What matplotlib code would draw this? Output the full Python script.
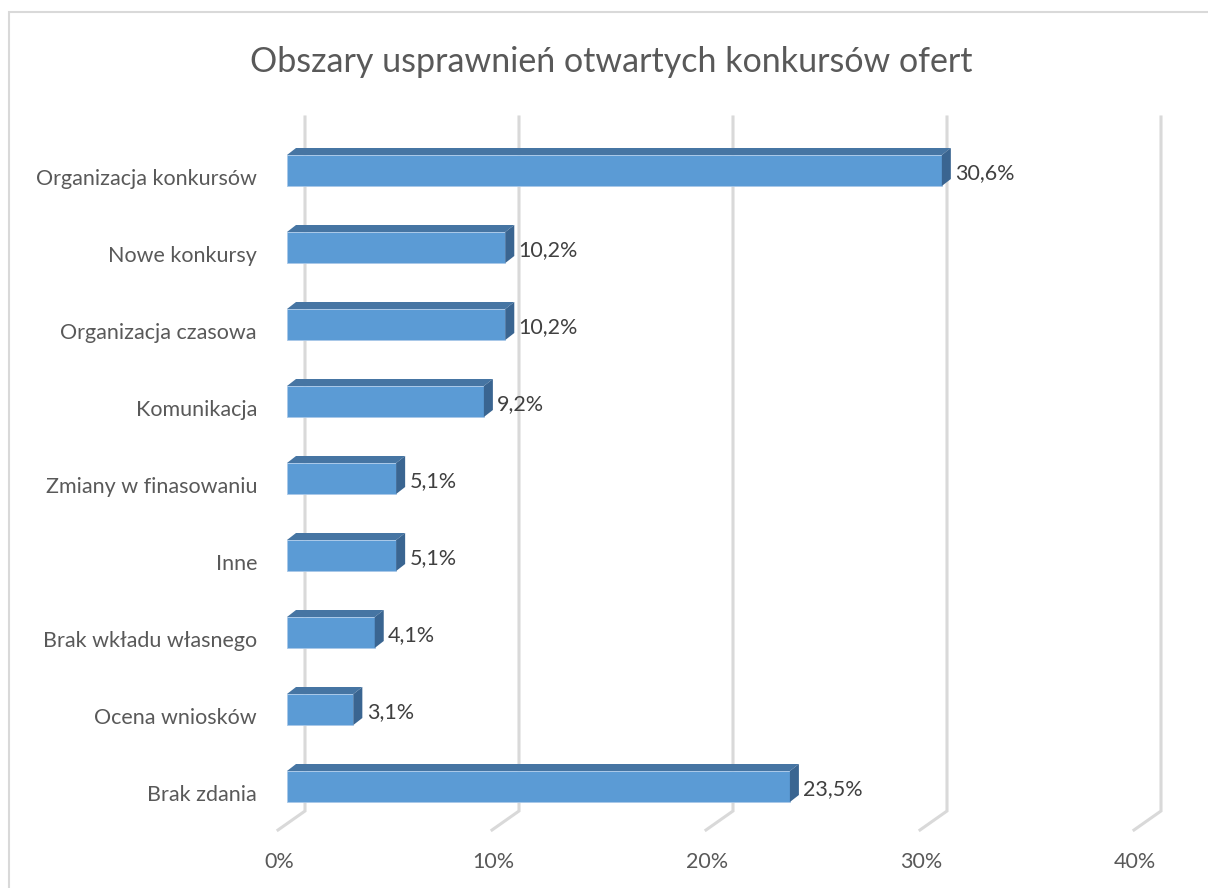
import matplotlib.pyplot as plt
from matplotlib.patches import Rectangle, Polygon

plt.rcParams['font.family'] = ['Lato', 'DejaVu Sans']

categories = ['Organizacja konkursów', 'Nowe konkursy', 'Organizacja czasowa', 'Komunikacja',
              'Zmiany w finasowaniu', 'Inne', 'Brak wkładu własnego', 'Ocena wniosków', 'Brak zdania']
values = [30.6, 10.2, 10.2, 9.2, 5.1, 5.1, 4.1, 3.1, 23.5]
value_labels = ['30,6%', '10,2%', '10,2%', '9,2%', '5,1%', '5,1%', '4,1%', '3,1%', '23,5%']
ticks = [0, 10, 20, 30, 40]
tick_labels = ['0%', '10%', '20%', '30%', '40%']

W, H = 1208, 888
fig = plt.figure(figsize=(W / 100, H / 100), dpi=100)

# axes placed in pixels: x 0..40 -> 287..1143 px, y -1..9 -> 93.5..863.5 px
px_per_x = 21.4
px_per_y = 77.0
x0, x1 = 287, 287 + 40 * px_per_x
y_top, y_bot = 93.5, 863.5
ax = fig.add_axes([x0 / W, (H - y_bot) / H, (x1 - x0) / W, (y_bot - y_top) / H])
ax.set_xlim(0, 40)
ax.set_ylim(9, -1)
ax.set_axis_off()

# 3d offsets in data units
dx = 9 / px_per_x
dy = -7 / px_per_y
h = 31 / px_per_y
grid_back = 18 / px_per_x
foot_front = -9 / px_per_x
grid_top = (117 - y_top) / px_per_y - 1
grid_bot = (811 - y_top) / px_per_y - 1
foot_y = (830 - y_top) / px_per_y - 1
label_y = (862 - y_top) / px_per_y - 1

fs = 15.5
grid_col = '#D9D9D9'
for t, lab in zip(ticks, tick_labels):
    ax.plot([t + grid_back, t + grid_back, t + foot_front], [grid_top, grid_bot, foot_y],
            color=grid_col, lw=2.2, clip_on=False, zorder=1, solid_joinstyle='miter')
    ax.text(t + foot_front + 0.05, label_y, lab, ha='center', va='center',
            fontsize=fs, color='#595959', clip_on=False)

ypos = list(range(len(categories)))
ax.barh(ypos, values, height=h, color='#5B9BD5', edgecolor='#A9C8E8', linewidth=0.6, zorder=3)
for i, v in zip(ypos, values):
    top = i - h / 2
    ax.add_patch(Polygon([(0, top), (v, top), (v + dx, top + dy), (dx, top + dy)],
                         closed=True, facecolor='#4675A3', edgecolor='none', zorder=4, clip_on=False))
    ax.add_patch(Polygon([(v, top), (v + dx, top + dy), (v + dx, top + h + dy), (v, top + h)],
                         closed=True, facecolor='#3A6591', edgecolor='none', zorder=4, clip_on=False))

for i, v, lab in zip(ypos, values, value_labels):
    ax.text(v + dx + 0.2, i + 0.03, lab, ha='left', va='center', fontsize=fs,
            color='#404040', clip_on=False)

for i, cat in zip(ypos, categories):
    ax.text(-30 / px_per_x, i + 0.115, cat, ha='right', va='center', fontsize=fs,
            color='#595959', clip_on=False)

fig.text(611 / W, 1 - 62 / H, 'Obszary usprawnień otwartych konkursów ofert', ha='center', va='center',
         fontsize=24.5, color='#595959')

# chart frame (cropped on right and bottom)
fig.add_artist(Rectangle((8.5 / W, -0.1), 1.2, 1 - 12 / H + 0.1, transform=fig.transFigure,
                         fill=False, edgecolor=grid_col, lw=1.5))

fig.savefig('out.png', dpi=100, facecolor='white')
